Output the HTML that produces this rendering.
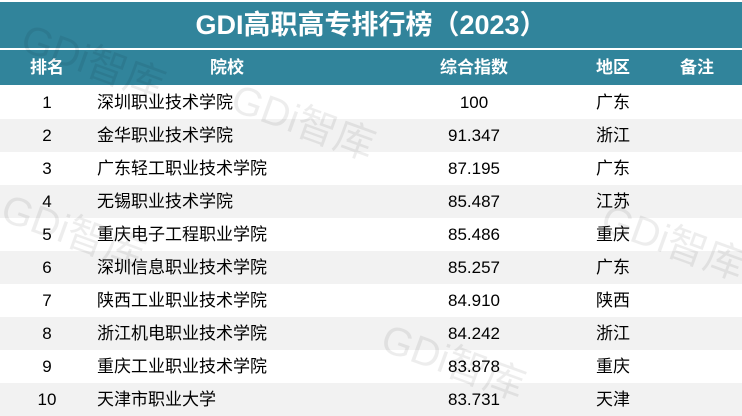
<!DOCTYPE html><html><head><meta charset="utf-8"><style>
body{margin:0;width:742px;height:411px;overflow:hidden;background:#fff;font-family:"Liberation Sans","Noto Sans CJK SC",sans-serif;position:relative}
.t{position:absolute;left:0;top:2px;width:742px;height:46px;background:#31849b;color:#fff;font-weight:bold;font-size:27px;text-align:center;line-height:46px}
.h{position:absolute;left:0;top:50px;width:742px;height:35px;background:#31849b;color:#fff;font-weight:bold;font-size:17px;line-height:35px}
.r{position:absolute;left:0;width:742px;height:33px;line-height:33px;font-size:17px;color:#000}
.c{position:absolute;top:0;text-align:center}
.a{left:0;width:94px}.b{left:97px}.d{left:424px;width:100px}.e{left:583px;width:60px}.f{left:667px;width:60px}
.w{position:absolute;color:rgba(0,0,0,0.07);font-size:40px;transform:rotate(20deg);white-space:nowrap}
</style></head><body>
<div class="t">GDI高职高专排行榜（2023）</div>
<div class="h"><span class="c a">排名</span><span class="c" style="left:180px;width:94px;text-align:center">院校</span><span class="c d">综合指数</span><span class="c e">地区</span><span class="c f">备注</span></div>
<div style="position:absolute;top:86px;left:0;width:742px">
<div class="r" style="top:0"><span class="c a">1</span><span class="c b">深圳职业技术学院</span><span class="c d">100</span><span class="c e">广东</span></div>
<div class="r" style="top:33px;background:#f2f2f2"><span class="c a">2</span><span class="c b">金华职业技术学院</span><span class="c d">91.347</span><span class="c e">浙江</span></div>
<div class="r" style="top:66px"><span class="c a">3</span><span class="c b">广东轻工职业技术学院</span><span class="c d">87.195</span><span class="c e">广东</span></div>
<div class="r" style="top:99px;background:#f2f2f2"><span class="c a">4</span><span class="c b">无锡职业技术学院</span><span class="c d">85.487</span><span class="c e">江苏</span></div>
<div class="r" style="top:132px"><span class="c a">5</span><span class="c b">重庆电子工程职业学院</span><span class="c d">85.486</span><span class="c e">重庆</span></div>
<div class="r" style="top:165px;background:#f2f2f2"><span class="c a">6</span><span class="c b">深圳信息职业技术学院</span><span class="c d">85.257</span><span class="c e">广东</span></div>
<div class="r" style="top:198px"><span class="c a">7</span><span class="c b">陕西工业职业技术学院</span><span class="c d">84.910</span><span class="c e">陕西</span></div>
<div class="r" style="top:231px;background:#f2f2f2"><span class="c a">8</span><span class="c b">浙江机电职业技术学院</span><span class="c d">84.242</span><span class="c e">浙江</span></div>
<div class="r" style="top:264px"><span class="c a">9</span><span class="c b">重庆工业职业技术学院</span><span class="c d">83.878</span><span class="c e">重庆</span></div>
<div class="r" style="top:297px;background:#f2f2f2"><span class="c a">10</span><span class="c b">天津市职业大学</span><span class="c d">83.731</span><span class="c e">天津</span></div>
</div>
<div class="w" style="left:20px;top:30px">GDi智库</div>
<div class="w" style="left:230px;top:90px">GDi智库</div>
<div class="w" style="left:0px;top:200px">GDi智库</div>
<div class="w" style="left:380px;top:330px">GDi智库</div>
<div class="w" style="left:600px;top:210px">GDi智库</div>
</body></html>
